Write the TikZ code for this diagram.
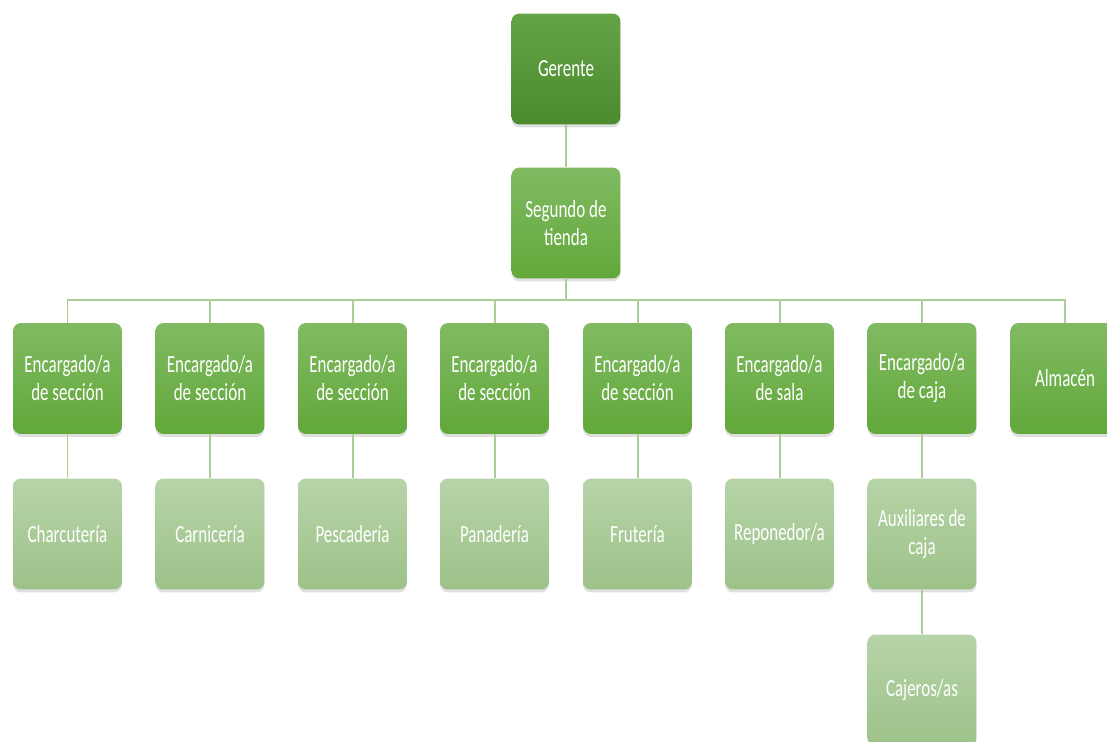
\documentclass[tikz,border=0pt]{standalone}
\usepackage{fontspec}
\setmainfont{Carlito}[FakeStretch=0.69]
\usepackage{tikz}
\usetikzlibrary{shadows}

\definecolor{verdeOsc}{HTML}{4C8A2E}
\definecolor{verdeOscTop}{HTML}{65A347}
\definecolor{verdeMed}{HTML}{62A83A}
\definecolor{verdeMedTop}{HTML}{80BA62}
\definecolor{verdeCla}{HTML}{9DC289}
\definecolor{verdeClaTop}{HTML}{B6D4A8}
\definecolor{linea}{HTML}{A9CF96}

\tikzset{
  caja/.style={rounded corners=0.16cm, minimum width=2.18cm, minimum height=2.22cm,
    inner sep=1pt, align=center, text=white,
    font=\fontsize{14}{15.9}\selectfont,
    drop shadow={opacity=0.25, shadow xshift=0pt, shadow yshift=-0.06cm}},
  jefe/.style={caja, top color=verdeOscTop, bottom color=verdeOsc},
  encargado/.style={caja, top color=verdeMedTop, bottom color=verdeMed},
  puesto/.style={caja, top color=verdeClaTop, bottom color=verdeCla},
  conector/.style={draw=linea, line width=0.04cm}
}

\begin{document}
\begin{tikzpicture}[x=0.02cm, y=-0.02cm]
\useasboundingbox (0,0) rectangle (1107,742);
\clip (0,0) rectangle (1107,742);

% nivel 1 y 2
\node[jefe] (gerente) at (566,69) {Gerente};
\node[encargado] (segundo) at (566,223) {Segundo de\\tienda};

% nivel 3 - encargados
\node[encargado] (enc1) at (67.5,378.5) {Encargado/a\\de sección};
\node[encargado] (enc2) at (210,378.5) {Encargado/a\\de sección};
\node[encargado] (enc3) at (352.5,378.5) {Encargado/a\\de sección};
\node[encargado] (enc4) at (494.5,378.5) {Encargado/a\\de sección};
\node[encargado] (enc5) at (637.5,378.5) {Encargado/a\\de sección};
\node[encargado] (sala) at (779.5,378.5) {Encargado/a\\de sala};
\node[encargado] (caja) at (922,378.5) {Encargado/a\\de caja};
\node[encargado] (almacen) at (1065,378.5) {Almacén};

% nivel 4 - secciones
\node[puesto] (charcuteria) at (67.5,534) {Charcutería};
\node[puesto] (carniceria) at (210,534) {Carnicería};
\node[puesto] (pescaderia) at (352.5,534) {Pescadería};
\node[puesto] (panaderia) at (494.5,534) {Panadería};
\node[puesto] (fruteria) at (637.5,534) {Frutería};
\node[puesto] (reponedor) at (779.5,534) {Reponedor/a};
\node[puesto] (auxiliares) at (922,534) {Auxiliares de\\caja};
\node[puesto] (cajeros) at (922,690) {Cajeros/as};

% conectores
\coordinate (barra) at (566,300);
\draw[conector] (gerente) -- (segundo);
\draw[conector] (segundo) -- (barra);
\foreach \n in {enc1,enc2,enc3,enc4,enc5,sala,caja,almacen}
  \draw[conector] (barra) -| (\n.north);
\draw[conector] (enc1) -- (charcuteria);
\draw[conector] (enc2) -- (carniceria);
\draw[conector] (enc3) -- (pescaderia);
\draw[conector] (enc4) -- (panaderia);
\draw[conector] (enc5) -- (fruteria);
\draw[conector] (sala) -- (reponedor);
\draw[conector] (caja) -- (auxiliares);
\draw[conector] (auxiliares) -- (cajeros);
\end{tikzpicture}
\end{document}
